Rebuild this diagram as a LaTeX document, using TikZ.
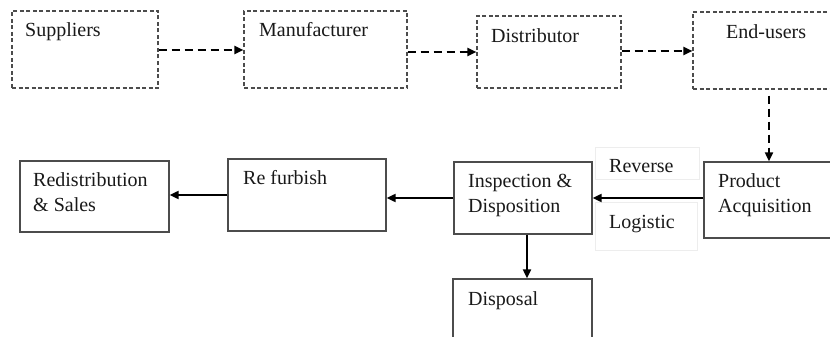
\documentclass[tikz,border=0pt]{standalone}
\usepackage{fontspec}
\setmainfont{Liberation Serif}
\usetikzlibrary{arrows.meta}
\begin{document}
\begin{tikzpicture}[x=1pt,y=-1pt,
  dbox/.style={draw=black!70, line width=1.1pt, dash pattern=on 4pt off 2.5pt, inner sep=0pt},
  sbox/.style={draw=black!70, line width=1.3pt, inner sep=0pt},
  lbl/.style={anchor=base west, inner sep=0pt, text=black!90, font=\fontsize{20}{24}\selectfont},
  darrow/.style={line width=2pt, dash pattern=on 8pt off 5pt, -{Triangle[length=9pt,width=8pt]}},
  sarrow/.style={line width=2pt, -{Triangle[length=9pt,width=8pt]}},
  faint/.style={draw=black!7, line width=0.8pt}
]
\useasboundingbox (0,0) rectangle (830,337);
\clip (0,0) rectangle (830,337);
\fill[white] (0,0) rectangle (830,337);

% forward chain (dashed)
\node[dbox, minimum width=146pt, minimum height=77pt] (sup) at (85,49.5) {};
\node[dbox, minimum width=163pt, minimum height=77pt] (man) at (325.5,49.5) {};
\node[dbox, minimum width=144pt, minimum height=72pt] (dst) at (549,52) {};
\node[dbox, minimum width=152pt, minimum height=77pt] (eu) at (769,50.5) {};

\node[lbl] (tsup) at (25,37) {Suppliers};
\node[lbl] (tman) at (259,37) {Manufacturer};
\node[lbl] (tdst) at (491,43) {Distributor};
\node[lbl] (teu) at (726,39) {End-users};

% reverse chain (solid)
\node[sbox, minimum width=149pt, minimum height=71pt] (red) at (94.5,196.5) {};
\node[sbox, minimum width=158pt, minimum height=72pt] (ref) at (307,195) {};
\node[sbox, minimum width=138pt, minimum height=72pt] (ins) at (523,198) {};
\node[sbox, minimum width=141pt, minimum height=76pt] (pa) at (774.5,200) {};
\node[sbox, minimum width=139pt, minimum height=66pt] (dsp) at (522.5,312) {};

\node[lbl] (tred1) at (33,186) {Redistribution};
\node[lbl] (tred2) at (33,211) {\& Sales};
\node[lbl] (tref) at (243,184) {Re furbish};
\node[lbl] (tins1) at (468,187) {Inspection \&};
\node[lbl] (tins2) at (468,212) {Disposition};
\node[lbl] (tpa1) at (718,187) {Product};
\node[lbl] (tpa2) at (718,212) {Acquisition};
\node[lbl] (tdsp) at (468,305) {Disposal};

% reverse logistic caption frames
\draw[faint] (595,147) rectangle (699,179);
\draw[faint] (595,202) rectangle (697,250);
\node[lbl] (trev) at (609,172) {Reverse};
\node[lbl] (tlog) at (609,228) {Logistic};

% connectors
\draw[darrow] ([yshift=-0.5pt]sup.east) -- ([yshift=-0.5pt]man.west);
\draw[darrow] (man.east |- dst) -- (dst.west);
\draw[darrow] ([yshift=1pt]dst.east) -- ([yshift=1pt]dst.east -| eu.west);
\draw[darrow] ([yshift=-6pt]eu.south) -- (eu.south |- pa.north);
\draw[sarrow] (pa.west |- ins) -- (ins.east);
\draw[sarrow] (ins.west) -- (ins.west -| ref.east);
\draw[sarrow] (ref.west) -- (ref.west -| red.east);
\draw[sarrow] ([xshift=4pt]ins.south) -- ([xshift=4pt]ins.south |- dsp.north);
\end{tikzpicture}
\end{document}
